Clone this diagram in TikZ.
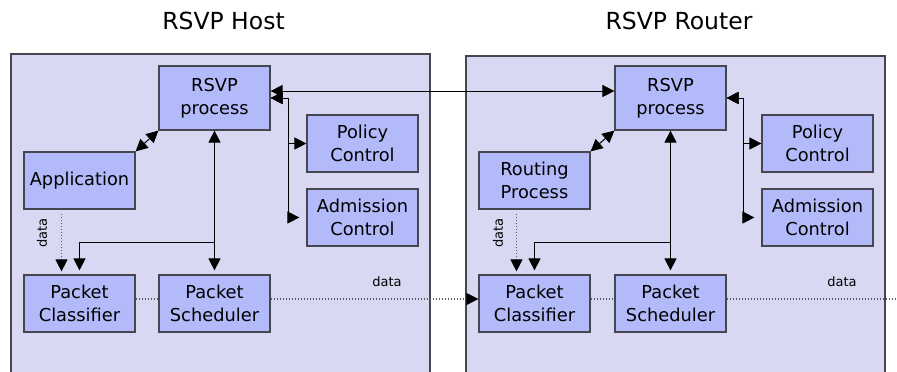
\documentclass[tikz,border=0pt]{standalone}
\usepackage{fontspec}
\setmainfont{DejaVu Sans}
\usetikzlibrary{arrows.meta}
\definecolor{panelfill}{RGB}{216,216,242}
\definecolor{nodefill}{RGB}{179,186,250}
\definecolor{edgegray}{RGB}{70,70,80}
\definecolor{dotgray}{RGB}{90,90,100}
\tikzset{
  panel/.style={draw=edgegray, line width=1.1pt, fill=panelfill},
  box/.style={draw=edgegray, line width=1.2pt, fill=nodefill, minimum width=111pt, minimum height=57pt,
    inner sep=0pt, align=center, font=\fontsize{17.8}{23.5}\selectfont},
  tallbox/.style={box, minimum height=64pt},
  title/.style={font=\fontsize{23.5}{27}\selectfont},
  small/.style={font=\fontsize{13}{15}\selectfont},
  tip/.tip={Triangle[length=12pt,width=12pt,color=black]},
  link/.style={line width=1pt, black, arrows={-tip}},
  dlink/.style={line width=1pt, black, arrows={tip-tip}},
  datalink/.style={line width=1.1pt, dotgray, dash pattern=on 1.4pt off 1.6pt},
}
\begin{document}
\begin{tikzpicture}[x=1pt,y=-1pt]
\clip (0,0) rectangle (897,372);
\fill[white] (0,0) rectangle (897,372);
% titles
\node[title] (t1) at (223.5,21) {RSVP Host};
\node[title] (t2) at (679,21) {RSVP Router};
% panels
\draw[panel] (11,54) rectangle (430,390);
\draw[panel] (466,56) rectangle (885,390);
% host nodes
\node[tallbox] (hR) at (214.5,98) {RSVP\\process};
\node[box] (hP) at (362.5,143.5) {Policy\\Control};
\node[box] (hA) at (362.5,217.5) {Admission\\Control};
\node[box] (hApp) at (79.5,180.5) {Application};
\node[box] (hC) at (79.5,303.5) {Packet\\Classifier};
\node[box] (hS) at (214.5,303.5) {Packet\\Scheduler};
% router nodes
\node[tallbox] (rR) at (670.5,98) {RSVP\\process};
\node[box] (rP) at (817.5,143.5) {Policy\\Control};
\node[box] (rA) at (817.5,217.5) {Admission\\Control};
\node[box] (rRt) at (534.5,180.5) {Routing\\Process};
\node[box] (rC) at (534.5,303.5) {Packet\\Classifier};
\node[box] (rS) at (670.5,303.5) {Packet\\Scheduler};
% RSVP to RSVP
\draw[dlink] ([yshift=7pt]hR.east) -- ([yshift=7pt]rR.east -| rR.west);
% host side connectors
\draw[dlink] (hR.east) -- ++(18,0) |- (hP.west);
\draw[dlink, shorten >=7pt] (hR.east) -- ++(18,0) |- (hA.west);
\draw[dlink] (hApp.north east) -- (hR.south west);
\draw[dlink, shorten >=4pt] (hR.south) -- (hS.north);
\coordinate (hJ) at (214.5,242);
\draw[link, shorten >=4pt] (hJ) -| (hC.north);
\draw[datalink, -tip, shorten <=4pt, shorten >=3pt] ([xshift=-18pt]hApp.south) -- ([xshift=-18pt]hC.north);
\node[small, rotate=90] (hd1) at (42,233) {data};
% router side connectors
\draw[dlink] (rR.east) -- ++(17,0) |- (rP.west);
\draw[dlink, shorten >=7pt] (rR.east) -- ++(17,0) |- (rA.west);
\draw[dlink] (rRt.north east) -- (rR.south west);
\draw[dlink, shorten >=4pt] (rR.south) -- (rS.north);
\coordinate (rJ) at (670.5,242);
\draw[link, shorten >=4pt] (rJ) -| (rC.north);
\draw[datalink, -tip, shorten <=4pt, shorten >=3pt] ([xshift=-18pt]rRt.south) -- ([xshift=-18pt]rC.north);
\node[small, rotate=90] (rd1) at (498,233) {data};
% data flow
\draw[datalink] ([yshift=4.5pt]hC.east) -- ([yshift=4.5pt]hS.west);
\draw[datalink, -tip] ([yshift=4.5pt]hS.east) -- ([yshift=4.5pt]rC.west);
\node[small] (hd2) at (387,282) {data};
\draw[datalink] ([yshift=4.5pt]rC.east) -- ([yshift=4.5pt]rS.west);
\coordinate (rEnd) at (897,299);
\draw[datalink] ([yshift=4.5pt]rS.east) -- (rEnd);
\node[small] (rd2) at (842,282) {data};
\end{tikzpicture}
\end{document}
